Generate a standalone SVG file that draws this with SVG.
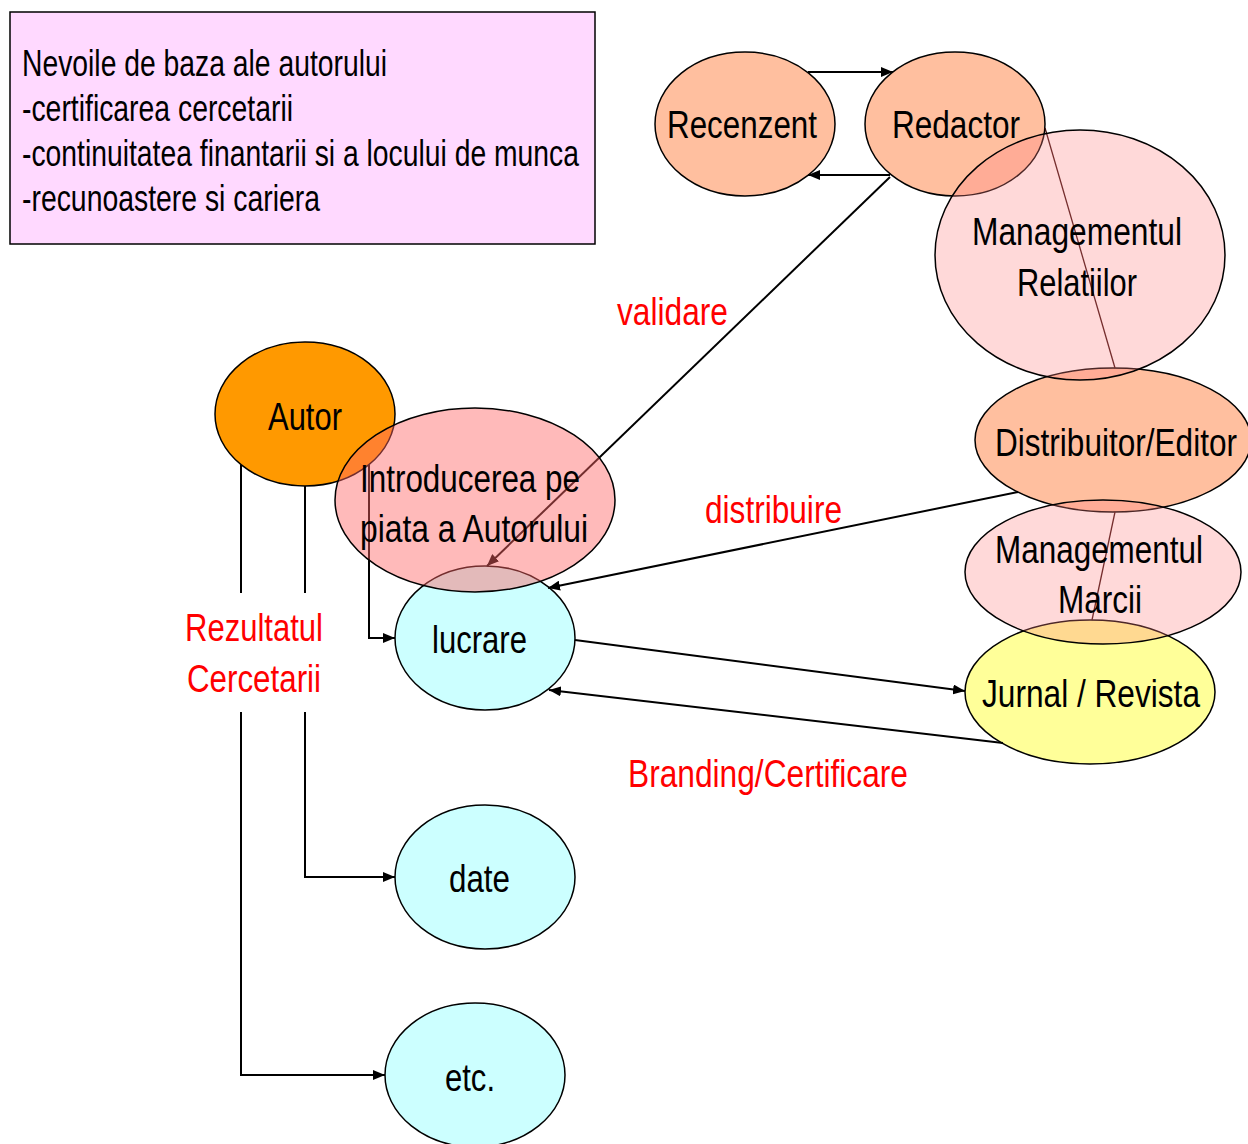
<svg xmlns="http://www.w3.org/2000/svg" width="1248" height="1144" viewBox="0 0 1248 1144">
<style>
text{font-family:"Liberation Sans",Arial,sans-serif;font-size:38px;fill:#000}
.box{font-size:37px}
.lbl{fill:#FF0000}
.e{stroke:#000;stroke-width:1.5}
.c{fill:none;stroke:#000;stroke-width:2}
.thin{fill:none;stroke:#3a0a0a;stroke-width:1.3}
</style>
<defs>
<marker id="ah" markerUnits="userSpaceOnUse" markerWidth="12" markerHeight="10" refX="12" refY="5" orient="auto">
<path d="M0,0 L12,5 L0,10 z" fill="#000"/>
</marker>
</defs>
<rect width="1248" height="1144" fill="#fff"/>
<g id="needs">
<rect x="10" y="12" width="585" height="232" fill="#FFD9FF" stroke="#000" stroke-width="1.5"/>
<text class="box" x="22" y="76" textLength="365" lengthAdjust="spacingAndGlyphs">Nevoile de baza ale autorului</text>
<text class="box" x="22" y="121" textLength="271" lengthAdjust="spacingAndGlyphs">-certificarea cercetarii</text>
<text class="box" x="22" y="166" textLength="557" lengthAdjust="spacingAndGlyphs">-continuitatea finantarii si a locului de munca</text>
<text class="box" x="22" y="211" textLength="298" lengthAdjust="spacingAndGlyphs">-recunoastere si cariera</text>
</g>
<g id="recenzent">
<ellipse class="e" cx="745" cy="124" rx="90" ry="72" fill="#FFBF9F"/>
<text x="667" y="138" textLength="150" lengthAdjust="spacingAndGlyphs">Recenzent</text>
</g>
<g id="redactor">
<ellipse class="e" cx="955" cy="124" rx="90" ry="72" fill="#FFBF9F"/>
<text x="892" y="138" textLength="128" lengthAdjust="spacingAndGlyphs">Redactor</text>
</g>
<g id="distribuitor">
<ellipse class="e" cx="1113" cy="440" rx="138" ry="72" fill="#FFBF9F"/>
<text x="995" y="456" textLength="242" lengthAdjust="spacingAndGlyphs">Distribuitor/Editor</text>
</g>
<g id="jurnal">
<ellipse class="e" cx="1090" cy="692" rx="125" ry="72" fill="#FFFF99"/>
<text x="982" y="707" textLength="218" lengthAdjust="spacingAndGlyphs">Jurnal / Revista</text>
</g>
<g id="autor">
<ellipse class="e" cx="305" cy="414" rx="90" ry="72" fill="#FF9900"/>
<text x="268" y="430" textLength="74" lengthAdjust="spacingAndGlyphs">Autor</text>
</g>
<g id="lucrare">
<ellipse class="e" cx="485" cy="638" rx="90" ry="72" fill="#CCFFFF"/>
<text x="432" y="653" textLength="95" lengthAdjust="spacingAndGlyphs">lucrare</text>
</g>
<g id="date">
<ellipse class="e" cx="485" cy="877" rx="90" ry="72" fill="#CCFFFF"/>
<text x="449" y="892" textLength="61" lengthAdjust="spacingAndGlyphs">date</text>
</g>
<g id="etc">
<ellipse class="e" cx="475" cy="1075" rx="90" ry="72" fill="#CCFFFF"/>
<text x="445" y="1091" textLength="50" lengthAdjust="spacingAndGlyphs">etc.</text>
</g>
<g id="connectors">
<path class="c" d="M808,72 H893" marker-end="url(#ah)"/>
<path class="c" d="M890,175 H808" marker-end="url(#ah)"/>
<path class="c" d="M890,177 L487,566" marker-end="url(#ah)"/>
<path class="c" d="M1018,492 L548,588" marker-end="url(#ah)"/>
<path class="c" d="M575,640 L965,691" marker-end="url(#ah)"/>
<path class="c" d="M1003,743 L549,690" marker-end="url(#ah)"/>
<path class="c" d="M369,465 V638 H395" marker-end="url(#ah)"/>
<path class="c" d="M305,486 V593"/>
<path class="c" d="M305,712 V877 H395" marker-end="url(#ah)"/>
<path class="c" d="M241,465 V593"/>
<path class="c" d="M241,712 V1075 H385" marker-end="url(#ah)"/>
<path class="thin" d="M1045,128 L1115,368"/>
<path class="thin" d="M1115,512 L1092,620"/>
</g>
<g id="mgmt-relatii">
<ellipse class="e" cx="1080" cy="255" rx="145" ry="125" fill="#FF8080" fill-opacity="0.3"/>
<text x="972" y="245" textLength="210" lengthAdjust="spacingAndGlyphs">Managementul</text>
<text x="1017" y="296" textLength="120" lengthAdjust="spacingAndGlyphs">Relatiilor</text>
</g>
<g id="mgmt-marca">
<ellipse class="e" cx="1103" cy="572" rx="138" ry="72" fill="#FF8080" fill-opacity="0.3"/>
<text x="995" y="563" textLength="208" lengthAdjust="spacingAndGlyphs">Managementul</text>
<text x="1058" y="613" textLength="84" lengthAdjust="spacingAndGlyphs">Marcii</text>
</g>
<g id="introducerea">
<ellipse class="e" cx="475" cy="500" rx="140" ry="92" fill="#FF6666" fill-opacity="0.45"/>
<text x="360" y="492" textLength="220" lengthAdjust="spacingAndGlyphs">Introducerea pe</text>
<text x="360" y="542" textLength="228" lengthAdjust="spacingAndGlyphs">piata a Autorului</text>
</g>
<g id="labels">
<text class="lbl" x="617" y="325" textLength="111" lengthAdjust="spacingAndGlyphs">validare</text>
<text class="lbl" x="705" y="523" textLength="137" lengthAdjust="spacingAndGlyphs">distribuire</text>
<text class="lbl" x="185" y="641" textLength="138" lengthAdjust="spacingAndGlyphs">Rezultatul</text>
<text class="lbl" x="187" y="692" textLength="134" lengthAdjust="spacingAndGlyphs">Cercetarii</text>
<text class="lbl" x="628" y="787" textLength="280" lengthAdjust="spacingAndGlyphs">Branding/Certificare</text>
</g>
</svg>
